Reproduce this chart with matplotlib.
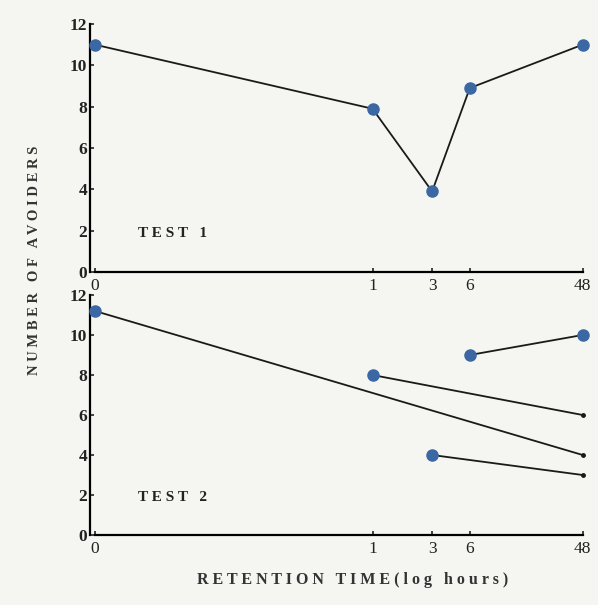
import matplotlib
matplotlib.use('Agg')
import matplotlib.pyplot as plt
import numpy as np

hours = [0, 1, 3, 6, 48]
tick_labels = ['0', '1', '3', '6', '48']
test1 = [11, 7.9, 3.9, 8.9, 11]

# test 2: one line per starting time, each running to 48 h
t2_start_hours = [0, 1, 3, 6]
t2_start_vals = [11.2, 8, 4, 9]
t2_end_vals = [4, 6, 3, 10]

ZERO_POS = -2.22  # where hour 0 sits on the log axis


def pos(h):
    h = np.asarray(h, dtype=float)
    out = np.full(h.shape, ZERO_POS)
    out[h > 0] = np.log10(h[h > 0])
    return out


BLUE = '#3b67a3'
BG = '#f5f5f2'
plt.rcParams['font.family'] = ['Liberation Serif', 'DejaVu Serif']

fig = plt.figure(figsize=(5.98, 6.05), dpi=100, facecolor=BG)

W, H = 598.0, 605.0
x_left, x_right = 90, 592
xlim = (ZERO_POS - 5 / 125.0, ZERO_POS + (x_right - 95) / 125.0)


def make_ax(y_top, y_bot):
    ax = fig.add_axes([x_left / W, (H - y_bot) / H, (x_right - x_left) / W, (y_bot - y_top) / H])
    ax.set_facecolor(BG)
    ax.set_xlim(*xlim)
    ax.set_ylim(0, 12)
    for s in ['top', 'right']:
        ax.spines[s].set_visible(False)
    ax.spines['left'].set_linewidth(1.6)
    ax.spines['bottom'].set_linewidth(1.6)
    ax.spines['bottom'].set_bounds(pos([0])[0], pos([48])[0])
    ax.set_yticks(range(0, 13, 2))
    ax.set_yticklabels([str(v) for v in range(0, 13, 2)], fontsize=12.5, fontweight='bold')
    ax.set_xticks(pos(hours))
    ax.set_xticklabels(tick_labels, fontsize=12.5)
    ax.tick_params(axis='both', direction='in', length=3, width=1.2, pad=4, colors='#222222')
    ax.tick_params(axis='y', pad=2)
    return ax


ax1 = make_ax(24, 272)
ax1.plot(pos(hours), test1, color='#1a1a1a', lw=1.3, zorder=2)
ax1.plot(pos(hours), test1, 'o', color=BLUE, ms=8, zorder=3, clip_on=False)
ax1.text(0.095, 0.14, 'T E S T   1', transform=ax1.transAxes, fontsize=11,
         fontweight='bold', color='#222222')

ax2 = make_ax(295, 535)
for h, v0, v1 in zip(t2_start_hours, t2_start_vals, t2_end_vals):
    xs = pos([h, 48])
    ax2.plot(xs, [v0, v1], color='#1a1a1a', lw=1.3, zorder=2)
    ax2.plot(xs[0], v0, 'o', color=BLUE, ms=8, zorder=3, clip_on=False)
    if v1 == max(t2_end_vals):
        ax2.plot(xs[1], v1, 'o', color=BLUE, ms=8, zorder=3, clip_on=False)
    else:
        ax2.plot(xs[1], v1, 'o', color='#1a1a1a', ms=2.5, zorder=3)
ax2.text(0.095, 0.14, 'T E S T   2', transform=ax2.transAxes, fontsize=11,
         fontweight='bold', color='#222222')

fig.text(35 / W, (H - 260) / H, 'N U M B E R   O F   A V O I D E R S', rotation=90,
         ha='center', va='center', fontsize=10.5, fontweight='bold', color='#333333')
fig.text(353 / W, (H - 580) / H, 'R E T E N T I O N   T I M E ( l o g   h o u r s )',
         ha='center', va='center', fontsize=11.5, fontweight='bold', color='#333333')

fig.savefig('out.png', dpi=100, facecolor=BG)
